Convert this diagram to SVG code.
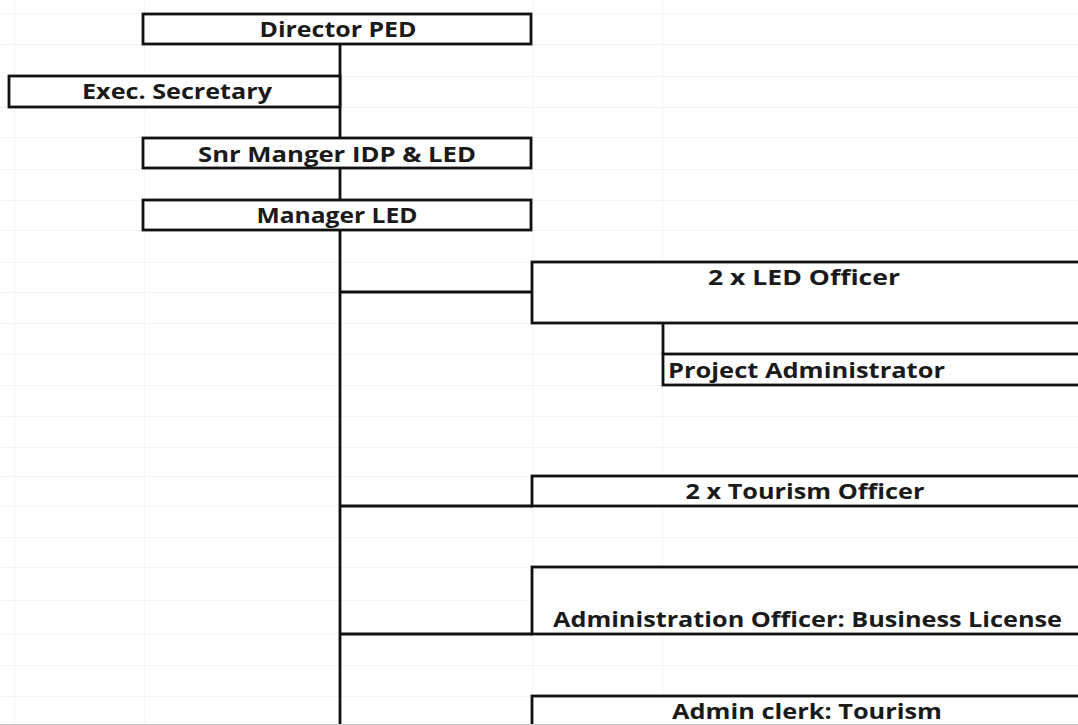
<svg xmlns="http://www.w3.org/2000/svg" width="1078" height="725" viewBox="0 0 1078 725">
  <style>
    .grid line { stroke: #f4f4f4; stroke-width: 1; }
    .box { fill: #ffffff; stroke: #111111; stroke-width: 2.8; }
    .wire { fill: none; stroke: #111111; stroke-width: 2.8; }
    .lbl { font-family: "Open Sans", "Liberation Sans", sans-serif; font-weight: 700; font-size: 20.5px; fill: #1a1a1a; }
    .mid { text-anchor: middle; }
  </style>

  <rect x="0" y="0" width="1078" height="725" fill="#ffffff"/>

  <!-- spreadsheet cell grid -->
  <g class="grid">
    <line x1="14.5" y1="0" x2="14.5" y2="725"/>
    <line x1="144.5" y1="0" x2="144.5" y2="725"/>
    <line x1="532.5" y1="0" x2="532.5" y2="725"/>
    <line x1="662.5" y1="0" x2="662.5" y2="725"/>
    <line x1="0" y1="13.5" x2="1078" y2="13.5"/>
    <line x1="0" y1="44.5" x2="1078" y2="44.5"/>
    <line x1="0" y1="76.5" x2="1078" y2="76.5"/>
    <line x1="0" y1="107.5" x2="1078" y2="107.5"/>
    <line x1="0" y1="137.5" x2="1078" y2="137.5"/>
    <line x1="0" y1="169.5" x2="1078" y2="169.5"/>
    <line x1="0" y1="200.5" x2="1078" y2="200.5"/>
    <line x1="0" y1="230.5" x2="1078" y2="230.5"/>
    <line x1="0" y1="262.5" x2="1078" y2="262.5"/>
    <line x1="0" y1="292.5" x2="1078" y2="292.5"/>
    <line x1="0" y1="323.5" x2="1078" y2="323.5"/>
    <line x1="0" y1="354.5" x2="1078" y2="354.5"/>
    <line x1="0" y1="385.5" x2="1078" y2="385.5"/>
    <line x1="0" y1="416.5" x2="1078" y2="416.5"/>
    <line x1="0" y1="447.5" x2="1078" y2="447.5"/>
    <line x1="0" y1="476.5" x2="1078" y2="476.5"/>
    <line x1="0" y1="506.5" x2="1078" y2="506.5"/>
    <line x1="0" y1="537.5" x2="1078" y2="537.5"/>
    <line x1="0" y1="567.5" x2="1078" y2="567.5"/>
    <line x1="0" y1="600.5" x2="1078" y2="600.5"/>
    <line x1="0" y1="634.5" x2="1078" y2="634.5"/>
    <line x1="0" y1="665.5" x2="1078" y2="665.5"/>
    <line x1="0" y1="696.5" x2="1078" y2="696.5"/>
  </g>

  <!-- connectors -->
  <g id="connectors" class="wire">
    <line x1="340" y1="44" x2="340" y2="726"/>
    <line x1="340" y1="292" x2="532" y2="292"/>
    <line x1="663" y1="323" x2="663" y2="354"/>
    <line x1="340" y1="506" x2="532" y2="506"/>
    <line x1="340" y1="634" x2="532" y2="634"/>
  </g>

  <g id="director-ped">
    <rect class="box" x="143" y="14" width="388" height="30"/>
    <text class="lbl mid" x="338" y="37" textLength="157" lengthAdjust="spacingAndGlyphs">Director PED</text>
  </g>

  <g id="exec-secretary">
    <rect class="box" x="9" y="76" width="331" height="31"/>
    <text class="lbl mid" x="177" y="99" textLength="190" lengthAdjust="spacingAndGlyphs">Exec. Secretary</text>
  </g>

  <g id="snr-manager">
    <rect class="box" x="143" y="138" width="388" height="30"/>
    <text class="lbl mid" x="337" y="162" textLength="278" lengthAdjust="spacingAndGlyphs">Snr Manger IDP &amp; LED</text>
  </g>

  <g id="manager-led">
    <rect class="box" x="143" y="200" width="388" height="30"/>
    <text class="lbl mid" x="337" y="223" textLength="161" lengthAdjust="spacingAndGlyphs">Manager LED</text>
  </g>

  <g id="led-officer">
    <rect class="box" x="532" y="262" width="600" height="61"/>
    <text class="lbl mid" x="804" y="285" textLength="192" lengthAdjust="spacingAndGlyphs">2 x LED Officer</text>
  </g>

  <g id="project-administrator">
    <rect class="box" x="663" y="354" width="470" height="31"/>
    <text class="lbl" x="668" y="378" textLength="277" lengthAdjust="spacingAndGlyphs">Project Administrator</text>
  </g>

  <g id="tourism-officer">
    <rect class="box" x="532" y="476" width="600" height="30"/>
    <text class="lbl mid" x="805" y="499" textLength="239" lengthAdjust="spacingAndGlyphs">2 x Tourism Officer</text>
  </g>

  <g id="admin-officer">
    <rect class="box" x="532" y="567" width="600" height="67"/>
    <text class="lbl mid" x="807.5" y="627" textLength="509" lengthAdjust="spacingAndGlyphs">Administration Officer: Business License</text>
  </g>

  <g id="admin-clerk">
    <rect class="box" x="532" y="696" width="600" height="60"/>
    <text class="lbl mid" x="807" y="719" textLength="270" lengthAdjust="spacingAndGlyphs">Admin clerk: Tourism</text>
  </g>

  <line x1="0" y1="724.5" x2="1078" y2="724.5" stroke="#c9c9c9" stroke-width="1"/>
</svg>
